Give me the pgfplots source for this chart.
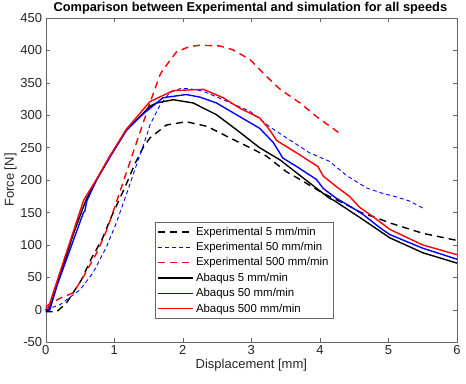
\documentclass[border=0pt]{standalone}
\usepackage{pgfplots}
\pgfplotsset{compat=1.18}
\usepackage{fontspec}
\setmainfont{Liberation Sans}
\definecolor{axgray}{rgb}{0.15,0.15,0.15}
\begin{document}
\begin{tikzpicture}
\begin{axis}[
  scale only axis, width=411pt, height=324pt,
  xmin=0, xmax=6, ymin=-50, ymax=450,
  xtick={0,1,...,6}, ytick={-50,0,50,...,450},
  tick align=inside, major tick length=4pt,
  axis line style={black!60},
  every tick/.style={black!60},
  tick label style={font=\fontsize{13}{15}\selectfont, text=axgray},
  /pgf/number format/assume math mode=true,
  xlabel={Displacement [mm]}, ylabel={Force [N]},
  label style={font=\fontsize{13}{15}\selectfont, text=axgray},
  xlabel style={yshift=3pt},
  ylabel style={yshift=-3pt},
  title={\textbf{Comparison between Experimental and simulation for all speeds}},
  title style={font=\fontsize{12.8}{15}\selectfont, yshift=-6pt, xshift=-1pt},
  legend style={at={(0.2655,0.37)}, anchor=north west, draw=black!60, fill=white,
    font=\fontsize{11.4}{13.5}\selectfont, row sep=1.6pt, inner sep=2.5pt},
  legend cell align=left,
  legend image code/.code={\draw[#1] (0pt,0pt) -- (35pt,0pt);},
]
% Experimental 5 mm/min
\addplot[black, line width=1.4pt, dash pattern=on 7pt off 5pt] coordinates {
(0,-3) (0.16,-3) (0.3,10) (0.52,46) (0.67,80) (0.82,108) (0.96,144) (1.16,190)
(1.3,225) (1.42,250) (1.52,265) (1.76,285) (2.05,290) (2.35,283) (2.69,265)
(2.98,250) (3.22,237) (3.51,213) (3.71,201) (4.04,180) (4.39,162) (4.6,150)
(4.82,142) (5.02,134) (5.5,118) (6,107)};
\addlegendentry{Experimental 5 mm/min}
% Experimental 50 mm/min
\addplot[blue, line width=0.9pt, dash pattern=on 4pt off 3pt] coordinates {
(0,0) (0.21,8) (0.5,31) (0.69,57) (0.89,98) (1.03,134) (1.2,185) (1.28,210)
(1.47,268) (1.52,285) (1.67,316) (1.81,335) (1.96,341) (2.1,341) (2.3,337)
(2.59,324) (2.98,306) (3.27,282) (3.56,262) (3.85,242) (4.14,229) (4.39,207)
(4.68,188) (4.9,180) (5.12,174) (5.3,168) (5.5,157)};
\addlegendentry{Experimental 50 mm/min}
% Experimental 500 mm/min
\addplot[red, line width=1.4pt, dash pattern=on 7pt off 5pt] coordinates {
(0,5) (0.21,18) (0.4,26) (0.55,51) (0.74,87) (0.89,123) (0.96,144) (1.13,197)
(1.28,244) (1.52,319) (1.67,363) (1.71,370) (1.91,398) (2.1,406) (2.25,408)
(2.54,407) (2.73,401) (2.98,386) (3.22,360) (3.42,340) (3.71,319) (3.95,298)
(4.29,272)};
\addlegendentry{Experimental 500 mm/min}
% Abaqus 5 mm/min
\addplot[black, line width=1.4pt] coordinates {
(0,0) (0.05,0) (0.4,116) (0.55,159) (0.6,172) (0.74,200) (0.94,237) (1.18,278)
(1.42,303) (1.52,314) (1.62,319) (1.86,324) (2.15,319) (2.49,301) (2.78,278)
(3.12,250) (3.42,231) (3.76,203) (4.14,172) (4.2,169) (4.63,139) (5.02,111)
(5.5,88) (6,72)};
\addlegendentry{Abaqus 5 mm/min}
% Abaqus 50 mm/min
\addplot[blue, line width=1.4pt] coordinates {
(0,0) (0.06,0) (0.16,36) (0.55,150) (0.57,152) (0.6,168) (0.74,200) (0.94,236)
(1.18,277) (1.42,302) (1.71,327) (2.05,332) (2.25,328) (2.49,319) (2.78,301)
(3.12,280) (3.32,258) (3.46,234) (3.66,221) (3.95,201) (4.05,187) (4.24,172)
(4.48,157) (4.63,147) (4.87,127) (5.02,116) (5.5,95) (6,78)};
\addlegendentry{Abaqus 50 mm/min}
% Abaqus 500 mm/min
\addplot[red, line width=1.4pt] coordinates {
(0,2) (0.04,4) (0.55,168) (0.57,172) (0.74,201) (0.94,238) (1.18,279) (1.52,321)
(1.86,338) (2.3,340) (2.59,327) (2.83,311) (3.12,296) (3.27,277) (3.37,261)
(3.66,242) (3.97,221) (4.05,206) (4.24,190) (4.43,175) (4.58,158) (4.77,144)
(5.02,124) (5.5,100) (6,85)};
\addlegendentry{Abaqus 500 mm/min}
\end{axis}
\pgfresetboundingbox
\path ([shift={(-45.7pt,-41pt)}]current axis.south west) rectangle ([shift={(9pt,18pt)}]current axis.north east);
\end{tikzpicture}
\end{document}
